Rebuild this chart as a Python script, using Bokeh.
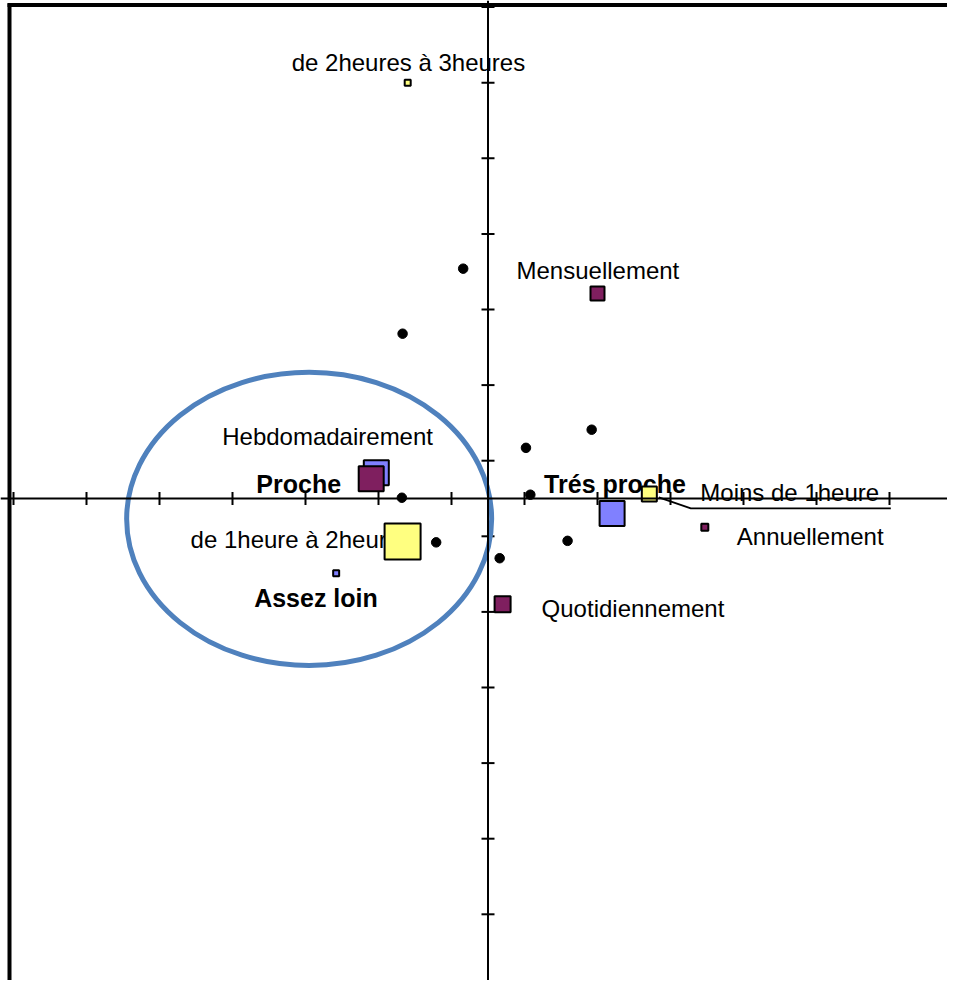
from bokeh.plotting import figure
from bokeh.models import Range1d, Span
from bokeh.core.properties import value
from bokeh.embed import file_html
from bokeh.resources import INLINE

# ---------------- data (factor coordinates) ----------------
# Proximity categories (blue squares, bold labels)
prox_labels = ["Trés proche", "Proche", "Assez loin"]
prox_x = [0.170, -0.153, -0.208]
prox_y = [-0.020, 0.034, -0.099]
prox_weight = [25, 25, 6]

# Frequency categories (purple squares)
freq_labels = ["Mensuellement", "Hebdomadairement", "Annuellement", "Quotidiennement"]
freq_x = [0.150, -0.160, 0.297, 0.020]
freq_y = [0.271, 0.026, -0.038, -0.140]
freq_weight = [14, 25, 7, 16]

# Duration categories (yellow squares)
dur_labels = ["de 2heures à 3heures", "de 1heure à 2heures", "Moins de 1heure"]
dur_x = [-0.110, -0.117, 0.221]
dur_y = [0.550, -0.057, 0.006]
dur_weight = [6, 36, 15]

# Unlabelled supplementary points (black dots)
sup_x = [-0.034, -0.117, 0.052, 0.142, -0.118, 0.058, -0.071, 0.109, 0.016]
sup_y = [0.304, 0.218, 0.067, 0.091, 0.001, 0.005, -0.058, -0.056, -0.079]

# Axis tick values
tick_values = [-0.65, -0.55, -0.45, -0.35, -0.25, -0.15, -0.05,
               0.05, 0.15, 0.25, 0.35, 0.45, 0.55, 0.65]

# Highlight ellipse (centre, width, height)
ell_x, ell_y, ell_w, ell_h = -0.245, -0.027, 0.500, 0.388

# ---------------- layout / style ----------------
W, H = 947, 980
X0, X1 = -0.66781, 0.62945
Y0, Y1 = -0.63757, 0.65873
SX = W / (X1 - X0)
SY = H / (Y1 - Y0)

BLUE = "#8080FF"
PURPLE = "#7F1F5F"
YELLOW = "#FFFF80"
FONT = "Liberation Sans"

# label anchor offsets in px (right, down) relative to the point
TB = -9  # baseline correction
prox_off = [(-68, -21 + TB), (-120, 20 + TB), (-82, 34 + TB)]
freq_off = [(-81, -14 + TB), (-149, -33 + TB), (32, 18 + TB), (39, 13 + TB)]
dur_off = [(-116, -11 + TB), (-212, 7 + TB), (51, 8 + TB)]

p = figure(width=W, height=H, output_backend="svg", toolbar_location=None,
           x_range=Range1d(X0, X1), y_range=Range1d(Y0, Y1),
           x_axis_location=None, y_axis_location=None,
           min_border=0, outline_line_color=None,
           background_fill_color="white", border_fill_color="white")
p.grid.visible = False


def offs(xs, ys, off):
    return ([x + dx / SX for x, (dx, dy) in zip(xs, off)],
            [y - dy / SY for y, (dx, dy) in zip(ys, off)])


# frame borders (left and top)
p.segment(x0=[X0 + 9 / SX], y0=[Y0], x1=[X0 + 9 / SX], y1=[Y1 - 3 / SY],
          line_color="black", line_width=4)
p.segment(x0=[X0 + 7 / SX], y0=[Y1 - 4.5 / SY], x1=[X1], y1=[Y1 - 4.5 / SY],
          line_color="black", line_width=4)

# axes
p.add_layout(Span(location=0, dimension="width", line_color="black", line_width=2))
p.add_layout(Span(location=0, dimension="height", line_color="black", line_width=2))
tl = 6.5
p.segment(x0=tick_values, x1=tick_values, y0=[-tl / SY] * len(tick_values),
          y1=[tl / SY] * len(tick_values), line_color="black", line_width=2)
p.segment(y0=tick_values, y1=tick_values, x0=[-tl / SX] * len(tick_values),
          x1=[tl / SX] * len(tick_values), line_color="black", line_width=2)

# ellipse
p.ellipse(x=[ell_x], y=[ell_y], width=[ell_w], height=[ell_h], fill_color=None,
          line_color="#4F81BD", line_width=5)

# labels
lx, ly = offs(freq_x, freq_y, freq_off)
p.text(x=lx, y=ly, text=freq_labels, text_font=value(FONT), text_font_size="24px",
       text_align="left", text_baseline="alphabetic", text_color="black")
lx, ly = offs(dur_x, dur_y, dur_off)
p.text(x=lx, y=ly, text=dur_labels, text_font=value(FONT), text_font_size="24px",
       text_align="left", text_baseline="alphabetic", text_color="black")
lx, ly = offs(prox_x, prox_y, prox_off)
p.text(x=lx, y=ly, text=prox_labels, text_font=value(FONT), text_font_size="25px",
       text_font_style="bold", text_align="left", text_baseline="alphabetic", text_color="black")

# leader line for "Moins de 1heure"
i = 2
lead = [(9.5, 3.5), (41.5, 14.5), (241.5, 14.5)]
p.line(x=[dur_x[i] + dx / SX for dx, dy in lead], y=[dur_y[i] - dy / SY for dx, dy in lead],
       line_color="black", line_width=1.8)

# squares
p.scatter(x=prox_x, y=prox_y, size=prox_weight, marker="square", fill_color=BLUE,
          line_color="black", line_width=2)
p.scatter(x=freq_x, y=freq_y, size=freq_weight, marker="square", fill_color=PURPLE,
          line_color="black", line_width=2)
p.scatter(x=dur_x, y=dur_y, size=dur_weight, marker="square", fill_color=YELLOW,
          line_color="black", line_width=2)

# supplementary dots
p.scatter(x=sup_x, y=sup_y, size=9.5, marker="circle", fill_color="black", line_color="black")

open("out.html", "w").write(file_html(p, INLINE))
